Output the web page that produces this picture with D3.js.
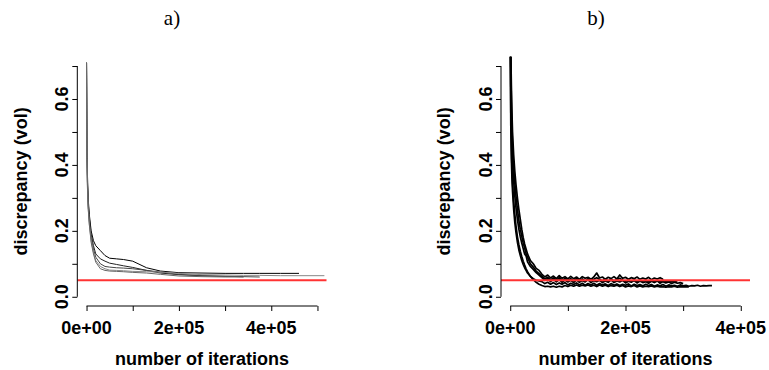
<!DOCTYPE html>
<html>
<head>
<meta charset="utf-8">
<script src="https://cdn.jsdelivr.net/npm/d3@7"></script>
<style>
  body { margin: 0; background: #fff; }
  text { font-family: "Liberation Sans", Arial, sans-serif; font-weight: bold; }
</style>
</head>
<body>
<div id="chart"></div>
<script>
// panel labels
const panelTitles = ['a)', 'b)'];

// y ticks (all drawn, only some labelled, like R does)
const yTicks = [0, 0.1, 0.2, 0.3, 0.4, 0.5, 0.6, 0.7];
const yLabelled = [0, 0.2, 0.4, 0.6];
const xTicksA = [0, 1e5, 2e5, 3e5, 4e5, 5e5];
const xTicksB = [0, 1e5, 2e5, 3e5, 4e5];
const xLabelled = [0, 2e5, 4e5];
const targetLevel = 0.05;

// panel a) : iteration grid and five runs
const iterA = [0, 1000, 2000, 3500, 6000, 10000, 15000, 20000, 30000, 40000, 50000, 65000,
  80000, 100000, 130000, 160000, 200000, 250000, 300000, 340000, 375000, 420000, 460000, 515000];
const runA1 = [0.71, 0.46, 0.37, 0.30, 0.25, 0.20, 0.17, 0.155, 0.14, 0.125, 0.117, 0.115,
  0.113, 0.108, 0.088, 0.078, 0.073, 0.072, 0.071, 0.071, 0.071, 0.071, 0.071];
const runA2 = [0.71, 0.44, 0.35, 0.29, 0.24, 0.19, 0.155, 0.13, 0.115, 0.108, 0.102, 0.098,
  0.094, 0.089, 0.080, 0.072, 0.067, 0.064, 0.062, 0.061];
const runA3 = [0.71, 0.43, 0.34, 0.28, 0.23, 0.18, 0.145, 0.12, 0.10, 0.092, 0.090, 0.088,
  0.087, 0.085, 0.080, 0.075, 0.068, 0.064, 0.062, 0.061, 0.060];
const runA4 = [0.71, 0.42, 0.33, 0.27, 0.22, 0.17, 0.135, 0.11, 0.092, 0.085, 0.081, 0.080,
  0.079, 0.077, 0.076, 0.075, 0.071, 0.067, 0.066, 0.065, 0.065, 0.064, 0.064, 0.064];
const runA5 = [0.71, 0.42, 0.33, 0.27, 0.22, 0.165, 0.13, 0.105, 0.085, 0.080, 0.078, 0.077,
  0.076, 0.074, 0.072, 0.068, 0.063, 0.061, 0.060, 0.060];
const colorsA = ['#000', '#222', '#444', '#888', '#666'];

// panel b) : iteration grid and five noisy runs
const iterB = [0, 1000, 2000, 3000, 4000, 6000, 8000, 10000, 12500, 15000, 17500, 20000,
  22500, 25000, 27500, 30000, 35000, 40000, 45000, 50000,
  55000, 60000, 65000, 70000, 75000, 80000, 85000, 90000, 95000, 100000,
  105000, 110000, 115000, 120000, 125000, 130000, 135000, 140000, 145000, 150000,
  155000, 160000, 165000, 170000, 175000, 180000, 185000, 190000, 195000, 200000,
  205000, 210000, 215000, 220000, 225000, 230000, 235000, 240000, 245000, 250000,
  255000, 260000, 265000, 270000, 275000, 280000, 285000, 290000, 295000, 300000,
  305000, 310000, 315000, 320000, 325000, 330000, 335000, 340000, 345000, 350000];
const runB1 = [1.0, 0.75, 0.64, 0.56, 0.5, 0.43, 0.38, 0.34, 0.3, 0.265, 0.235, 0.205,
  0.18, 0.16, 0.145, 0.13, 0.11, 0.1, 0.086, 0.08,
  0.068, 0.060, 0.066, 0.057, 0.063, 0.055, 0.064, 0.056, 0.061, 0.054,
  0.062, 0.055, 0.060, 0.053, 0.061, 0.056, 0.059, 0.053, 0.060, 0.072,
  0.057, 0.060, 0.053, 0.059, 0.055, 0.061, 0.054, 0.066, 0.056, 0.059,
  0.053, 0.058, 0.055, 0.060, 0.053, 0.057, 0.054, 0.059, 0.052, 0.057,
  0.054, 0.058, 0.053];
const runB2 = [0.92, 0.64, 0.53, 0.46, 0.41, 0.35, 0.305, 0.27, 0.235, 0.205, 0.182, 0.163,
  0.146, 0.13, 0.124, 0.106, 0.092, 0.083, 0.073, 0.066,
  0.058, 0.050, 0.055, 0.046, 0.053, 0.045, 0.052, 0.044, 0.051, 0.045,
  0.050, 0.043, 0.051, 0.044, 0.049, 0.045, 0.052, 0.043, 0.049, 0.046,
  0.050, 0.043, 0.048, 0.044, 0.051, 0.043, 0.048, 0.045, 0.050, 0.042,
  0.047, 0.044, 0.049, 0.042, 0.048, 0.043, 0.046, 0.041, 0.047, 0.043,
  0.048, 0.041, 0.046, 0.042, 0.045, 0.040, 0.044, 0.041, 0.043, 0.040];
const runB3 = [0.80, 0.52, 0.42, 0.36, 0.32, 0.265, 0.225, 0.195, 0.165, 0.142, 0.125, 0.11,
  0.098, 0.088, 0.08, 0.072, 0.062, 0.055, 0.05, 0.048,
  0.046, 0.040, 0.044, 0.038, 0.043, 0.037, 0.042, 0.038, 0.043, 0.036,
  0.041, 0.037, 0.042, 0.036, 0.041, 0.035, 0.040, 0.036, 0.041, 0.035,
  0.040, 0.036, 0.039, 0.034, 0.040, 0.035, 0.039, 0.034, 0.038, 0.035,
  0.039, 0.033, 0.038, 0.034, 0.037, 0.033, 0.038, 0.034, 0.037, 0.032,
  0.036, 0.033, 0.037, 0.032, 0.036, 0.033, 0.035, 0.032, 0.036, 0.033,
  0.035, 0.032, 0.034, 0.033, 0.035, 0.032, 0.034, 0.033, 0.034, 0.034];
const runB4 = [0.84, 0.56, 0.46, 0.39, 0.345, 0.29, 0.25, 0.215, 0.182, 0.158, 0.138, 0.122,
  0.108, 0.096, 0.085, 0.076, 0.062, 0.052, 0.044, 0.038,
  0.034, 0.031, 0.032, 0.030, 0.032, 0.029, 0.032, 0.030, 0.034, 0.031,
  0.035, 0.032, 0.036, 0.032, 0.035, 0.033, 0.036, 0.032, 0.035, 0.031,
  0.036, 0.032, 0.035, 0.031, 0.034, 0.032, 0.035, 0.031, 0.034, 0.030,
  0.033, 0.031, 0.034, 0.030, 0.033, 0.030, 0.032, 0.031, 0.033, 0.030,
  0.032, 0.030, 0.031, 0.029, 0.031, 0.030, 0.032, 0.029, 0.031, 0.030,
  0.031, 0.030];
const runB5 = [0.96, 0.70, 0.59, 0.51, 0.455, 0.39, 0.345, 0.305, 0.265, 0.232, 0.205, 0.183,
  0.163, 0.148, 0.13, 0.12, 0.1, 0.09, 0.078, 0.07,
  0.062, 0.054, 0.059, 0.051, 0.057, 0.050, 0.058, 0.049, 0.056, 0.050,
  0.055, 0.048, 0.056, 0.049, 0.054, 0.047, 0.055, 0.049, 0.053, 0.058,
  0.052, 0.048, 0.054, 0.047, 0.053, 0.048, 0.052, 0.056, 0.050, 0.046,
  0.052, 0.047, 0.051, 0.046, 0.050, 0.047, 0.051, 0.045, 0.050, 0.046,
  0.049, 0.045, 0.050, 0.046, 0.048, 0.045, 0.047, 0.044];

const width = 769, height = 370;
const svg = d3.select('#chart').append('svg')
  .attr('width', width)
  .attr('height', height);

// R style 4% axis extension
const y = d3.scaleLinear().domain([-0.028, 0.728]).range([306, 56.8]);

const fmtSci = v => {
  if (v === 0) return '0e+00';
  const e = Math.floor(Math.log10(v));
  return (v / Math.pow(10, e)) + 'e+' + String(e).padStart(2, '0');
};

const panels = [
  { title: panelTitles[0], titleX: 172, left: 77.3, right: 326.7, dom: [-20000, 520000],
    xTicks: xTicksA, iter: iterA, runs: [runA1, runA2, runA3, runA4, runA5], colors: colorsA, lw: 1 },
  { title: panelTitles[1], titleX: 596, left: 501, right: 750, dom: [-16000, 416000],
    xTicks: xTicksB, iter: iterB, runs: [runB1, runB2, runB3, runB4, runB5],
    colors: ['#000', '#000', '#000', '#000', '#000'], lw: 1.7 }
];

panels.forEach((p, pi) => {
  const x = d3.scaleLinear().domain(p.dom).range([p.left, p.right]);
  const g = svg.append('g');

  svg.append('text')
    .attr('x', p.titleX).attr('y', 25)
    .attr('text-anchor', 'middle')
    .style('font-family', '"Liberation Serif", "DejaVu Serif", serif')
    .style('font-weight', 'normal')
    .style('font-size', '21px')
    .text(p.title);

  const clipId = 'clip' + pi;
  svg.append('clipPath').attr('id', clipId)
    .append('rect')
    .attr('x', p.left).attr('y', y.range()[1])
    .attr('width', p.right - p.left).attr('height', y.range()[0] - y.range()[1]);

  const line = d3.line().x(d => x(d[0])).y(d => y(d[1]));
  const plot = g.append('g').attr('clip-path', `url(#${clipId})`);
  p.runs.forEach((run, ri) => {
    plot.append('path')
      .datum(run.map((v, i) => [p.iter[i], v]))
      .attr('fill', 'none')
      .attr('stroke', p.colors[ri])
      .attr('stroke-width', p.lw)
      .attr('stroke-linejoin', 'round')
      .attr('d', line);
  });

  // horizontal reference line
  plot.append('line')
    .attr('x1', p.left).attr('x2', p.right)
    .attr('y1', y(targetLevel)).attr('y2', y(targetLevel))
    .attr('stroke', '#ff3333')
    .attr('stroke-width', 2);

  // y axis
  const yAxis = d3.axisLeft(y).tickValues(yTicks).tickSize(5).tickFormat('');
  const ya = g.append('g').attr('transform', `translate(${p.left},0)`).call(yAxis);
  ya.select('.domain').remove();
  ya.selectAll('.tick line').attr('stroke', '#000');
  ya.append('line')
    .attr('y1', y(yTicks[0])).attr('y2', y(yTicks[yTicks.length - 1]))
    .attr('stroke', '#000');
  yLabelled.forEach(v => {
    g.append('text')
      .attr('transform', `translate(${p.left - 9},${y(v)}) rotate(-90)`)
      .attr('text-anchor', 'middle')
      .style('font-size', '18px')
      .text(v.toFixed(1));
  });

  // x axis
  const xAxis = d3.axisBottom(x).tickValues(p.xTicks).tickSize(5).tickFormat('');
  const xa = g.append('g').attr('transform', `translate(0,306)`).call(xAxis);
  xa.select('.domain').remove();
  xa.selectAll('.tick line').attr('stroke', '#000');
  xa.append('line')
    .attr('x1', x(p.xTicks[0])).attr('x2', x(p.xTicks[p.xTicks.length - 1]))
    .attr('stroke', '#000');
  xLabelled.forEach(v => {
    g.append('text')
      .attr('x', x(v)).attr('y', 333.5)
      .attr('text-anchor', 'middle')
      .style('font-size', '18px')
      .text(fmtSci(v));
  });

  // axis titles
  const cx = (p.left + p.right) / 2;
  g.append('text')
    .attr('x', cx).attr('y', 365)
    .attr('text-anchor', 'middle')
    .style('font-size', '18px')
    .text('number of iterations');
  g.append('text')
    .attr('transform', `translate(${p.left - 50.8},${(y.range()[0] + y.range()[1]) / 2}) rotate(-90)`)
    .attr('text-anchor', 'middle')
    .style('font-size', '18px')
    .text('discrepancy (vol)');
});
</script>
</body>
</html>
